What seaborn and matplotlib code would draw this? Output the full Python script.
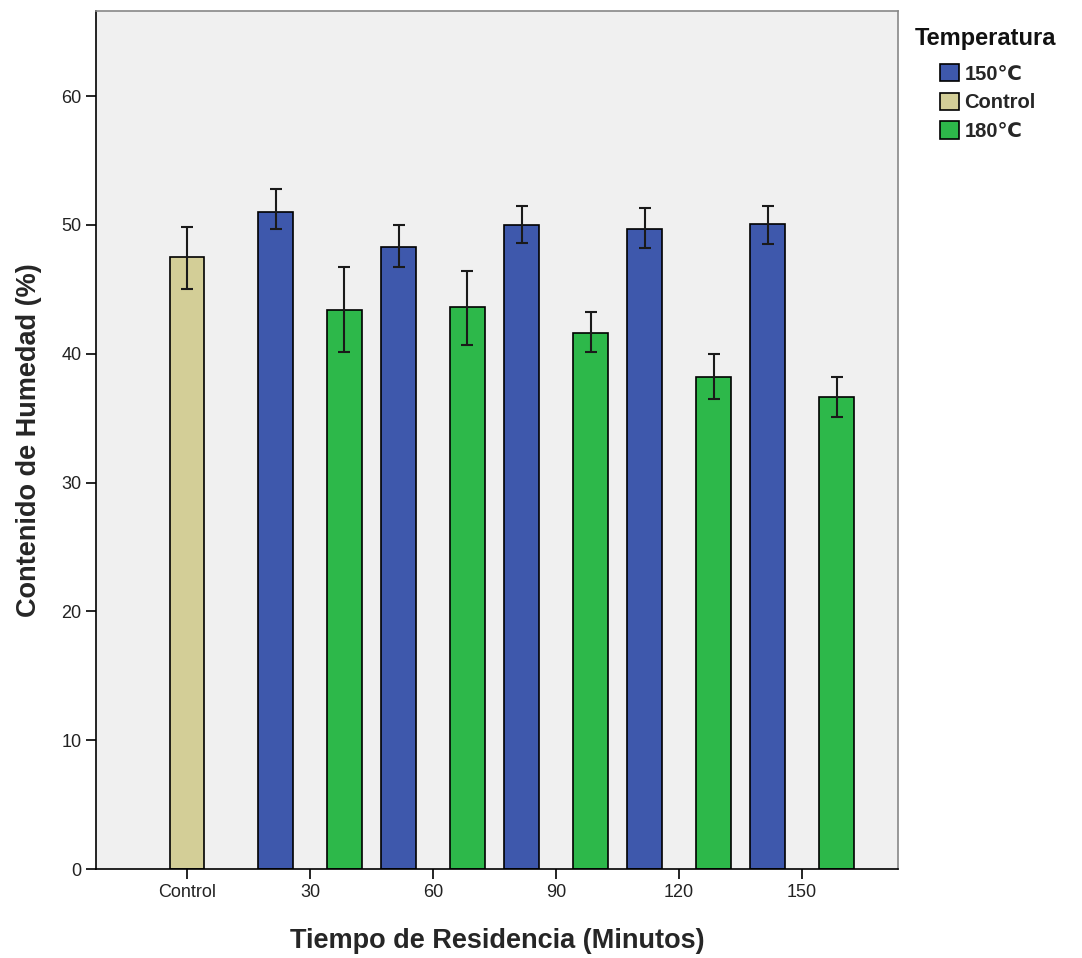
import pandas as pd
import matplotlib.pyplot as plt
import seaborn as sns

# Values
tiempo = ['Control', '30', '30', '60', '60', '90', '90', '120', '120', '150', '150']
temperatura = ['Control', '150℃', '180℃', '150℃', '180℃', '150℃', '180℃',
               '150℃', '180℃', '150℃', '180℃']
humedad = [47.5, 51.0, 43.4, 48.3, 43.6, 50.0, 41.6, 49.7, 38.2, 50.1, 36.6]
err_lo = [45.0, 49.7, 40.1, 46.7, 40.7, 48.6, 40.1, 48.2, 36.5, 48.5, 35.1]
err_hi = [49.8, 52.8, 46.7, 50.0, 46.4, 51.5, 43.2, 51.3, 40.0, 51.5, 38.2]

cat_order = ['Control', '30', '60', '90', '120', '150']
hue_order = ['150℃', 'Control', '180℃']
colores = {'150℃': '#3e58ac', 'Control': '#d3ce97', '180℃': '#2db84a'}

df = pd.DataFrame({'tiempo': tiempo, 'temperatura': temperatura, 'humedad': humedad,
                   'lo': err_lo, 'hi': err_hi})

sns.set_style('white')
plt.rcParams['font.family'] = ['Liberation Sans', 'DejaVu Sans']

fig = plt.figure(figsize=(10.82, 9.58), dpi=100)
ax = fig.add_axes([0.0887, 0.0929, 0.7413, 0.8956])
ax.set_facecolor('#f0f0f0')

sns.barplot(data=df, x='tiempo', y='humedad', hue='temperatura', order=cat_order,
            hue_order=hue_order, palette=colores, width=0.84, errorbar=None,
            saturation=1, edgecolor='black', linewidth=1.2, ax=ax, legend=False)

# error bars, one container per hue level
for cont, h in zip(ax.containers, hue_order):
    sub = df[df['temperatura'] == h].set_index('tiempo').reindex(cat_order).dropna()
    for bar, (_, row) in zip(cont, sub.iterrows()):
        xc = bar.get_x() + bar.get_width() / 2
        ax.errorbar(xc, row['humedad'],
                    yerr=[[row['humedad'] - row['lo']], [row['hi'] - row['humedad']]],
                    fmt='none', ecolor='#1a1a1a', elinewidth=1.5, capsize=4, capthick=1.5)

ax.set_xlim(-0.74, 5.78)
ax.set_ylim(0, 66.6)
ax.set_yticks([0, 10, 20, 30, 40, 50, 60])

for s in ['left', 'bottom']:
    ax.spines[s].set_color('black')
    ax.spines[s].set_linewidth(1.2)
for s in ['top', 'right']:
    ax.spines[s].set_color('#888888')
    ax.spines[s].set_linewidth(1.2)

ax.tick_params(axis='both', direction='out', length=7, width=1.2, color='black',
               labelsize=13, labelcolor='#222222', left=True, bottom=True)

ax.set_xlabel('Tiempo de Residencia (Minutos)', fontsize=19.5, fontweight='bold', labelpad=20)
ax.set_ylabel('Contenido de Humedad (%)', fontsize=19.5, fontweight='bold', labelpad=14)

# legend: title and entries placed separately (entries are indented)
fig.text(0.8457, 1 - 38 / 958, 'Temperatura', fontsize=17, fontweight='bold',
         ha='left', va='center', color='#111111')
handles = [plt.Rectangle((0, 0), 1, 1, facecolor=colores[h], edgecolor='black', linewidth=1.2)
           for h in hue_order]
fig.legend(handles, hue_order, loc='upper left', bbox_to_anchor=(0.869, 1 - 64 / 958),
           frameon=False, prop={'weight': 'bold', 'size': 14.5}, handlelength=0.95,
           handleheight=0.95, handletextpad=0.25, labelspacing=0.45, borderpad=0,
           borderaxespad=0)

fig.savefig('out.png', dpi=100)
